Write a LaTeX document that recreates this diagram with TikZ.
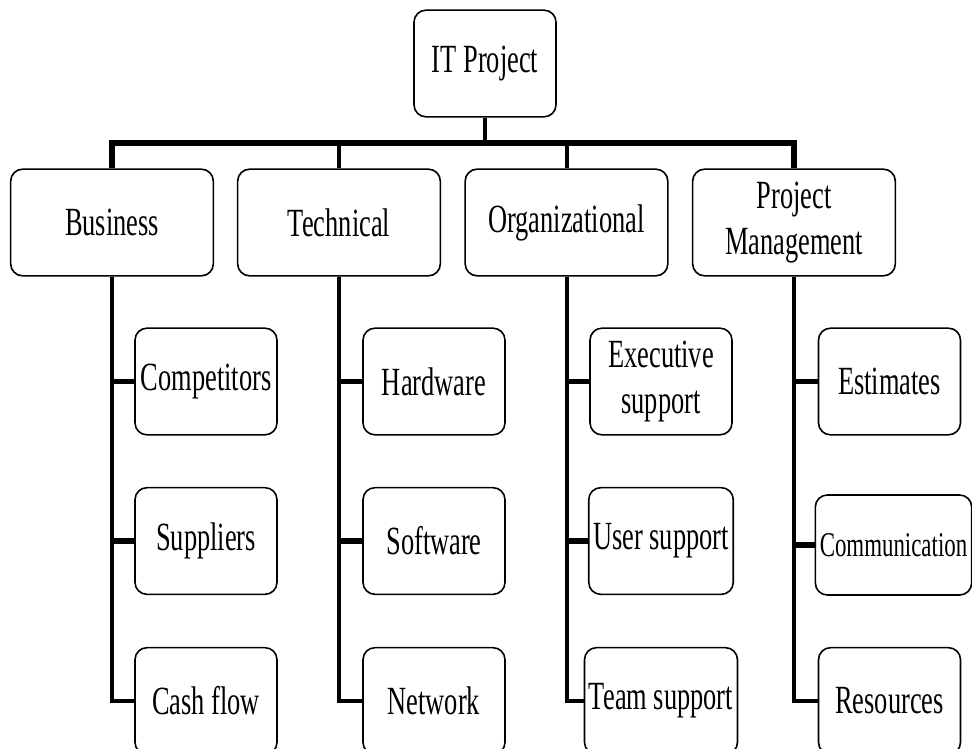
\documentclass[tikz,border=0pt]{standalone}
\usepackage{fontspec}
\setmainfont{Liberation Serif}[FakeStretch=0.66]
\usepackage{tikz}
\usetikzlibrary{calc}
\tikzstyle{topbox} = [rectangle, rounded corners=9pt, minimum width=152pt, minimum height=80pt, text centered, align=center, draw=black, line width=1.2pt, font=\fontsize{30}{34}\selectfont]
\tikzstyle{subbox} = [rectangle, rounded corners=9pt, minimum width=106.5pt, minimum height=80pt, text centered, align=center, draw=black, line width=1.2pt, font=\fontsize{30}{34}\selectfont]
\tikzstyle{conn} = [line width=3pt]
\tikzstyle{busline} = [line width=3.8pt]
\tikzstyle{tick} = [line width=4pt]

\begin{document}
\begin{tikzpicture}[x=0.75pt, y=-0.75pt]

    \useasboundingbox (0,0) rectangle (972,749);
    \clip (0,0) rectangle (972,749);

    \node (project) [subbox] at (485,63.5) {IT Project};

    \node (business) [topbox] at (112,222.5) {Business};
    \node (technical) [topbox] at (339,222.5) {Technical};
    \node (organizational) [topbox] at (566.5,222.5) {Organizational};
    \node (management) [topbox] at (794,222.5) {Project\\Management};

    % second level
    \node (competitors) [subbox] at (206,381.5) {Competitors};
    \node (suppliers) [subbox] at (206,541) {Suppliers};
    \node (cashflow) [subbox] at (206,701) {Cash flow};

    \node (hardware) [subbox] at (434,381.5) {Hardware};
    \node (software) [subbox] at (434,541) {Software};
    \node (network) [subbox] at (434,701) {Network};

    \node (executive) [subbox] at (661,381.5) {Executive\\support};
    \node (usersupport) [subbox] at (661,541) {User support};
    \node (teamsupport) [subbox] at (661,701) {Team support};

    \node (estimates) [subbox] at (889.5,381.5) {Estimates};
    \node (communication) [subbox, minimum width=114.75pt, minimum height=75pt, font=\fontsize{26}{30}\selectfont] at (893.5,545) {Communication};
    \node (resources) [subbox] at (889.5,701) {Resources};

    \coordinate (bus) at (485,143);

    \draw[conn] (project.south) -- (bus);
    \draw[busline] (business.north) |- (bus) -| (management.north);
    \draw[conn] (technical.north) -- (technical.north |- bus);
    \draw[conn] (organizational.north) -- (organizational.north |- bus);

    \draw[conn] (business.south) |- (cashflow.west);
    \draw[conn] (technical.south) |- (network.west);
    \draw[conn] (organizational.south) |- (teamsupport.west);
    \draw[conn] (management.south) |- (resources.west);

    \foreach \up/\kid in {business/competitors, business/suppliers, technical/hardware, technical/software, organizational/executive, organizational/usersupport, management/estimates, management/communication}
      \draw[tick] (\up.south |- \kid.west) -- (\kid.west);

\end{tikzpicture}
\end{document}
